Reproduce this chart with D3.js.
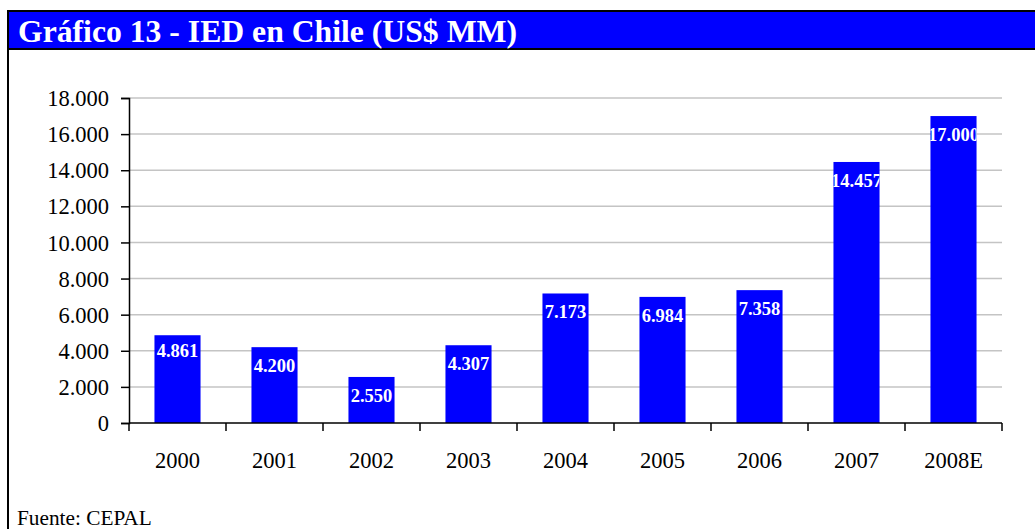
<!DOCTYPE html>
<html>
<head>
<meta charset="utf-8">
<script src="https://cdn.jsdelivr.net/npm/d3@7"></script>
<style>
  html, body { margin: 0; padding: 0; background: #fff; }
  svg { display: block; font-family: "Liberation Serif", "Times New Roman", serif; }
</style>
</head>
<body>
<div id="chart"></div>
<script>
// IED en Chile (US$ MM), fuente CEPAL
const years = ["2000", "2001", "2002", "2003", "2004", "2005", "2006", "2007", "2008E"];
const values = [4861, 4200, 2550, 4307, 7173, 6984, 7358, 14457, 17000];
const yTicks = [0, 2000, 4000, 6000, 8000, 10000, 12000, 14000, 16000, 18000];

const width = 1035, height = 529;
const svg = d3.select("#chart").append("svg").attr("width", width).attr("height", height);

// frame + title bar
svg.append("rect").attr("x", 7).attr("y", 10).attr("width", width - 7).attr("height", 2).attr("fill", "#000");
svg.append("rect").attr("x", 7).attr("y", 12).attr("width", width - 7).attr("height", 36).attr("fill", "#0000ff");
svg.append("rect").attr("x", 7).attr("y", 48).attr("width", width - 7).attr("height", 2).attr("fill", "#000");
svg.append("rect").attr("x", 7).attr("y", 10).attr("width", 2).attr("height", height - 10).attr("fill", "#000");

svg.append("text").attr("x", 18).attr("y", 41.5)
  .attr("fill", "#fff").attr("font-weight", "bold").attr("font-size", 31.7)
  .text("Gráfico 13 - IED en Chile (US$ MM)");

const x = d3.scaleBand().domain(years).range([129, 1002]).padding(0);
const y = d3.scaleLinear().domain([0, 18000]).range([423, 98]);
const fmt = d3.formatLocale({decimal: ",", thousands: ".", grouping: [3]}).format(",");

// gridlines
svg.append("g").selectAll("line").data(yTicks.filter(d => d > 0)).join("line")
  .attr("x1", 129).attr("x2", 1002)
  .attr("y1", d => y(d)).attr("y2", d => y(d))
  .attr("stroke", "#c4c4c4").attr("stroke-width", 1.5);

// bars
const barW = x.bandwidth() * 0.475;
const defs = svg.append("defs");
values.forEach((v, i) => {
  defs.append("clipPath").attr("id", "clip" + i).append("rect")
    .attr("x", x(years[i]) + (x.bandwidth() - barW) / 2).attr("y", y(v))
    .attr("width", barW).attr("height", y(0) - y(v));
});
const bars = svg.append("g").selectAll("g").data(values).join("g");
bars.append("rect")
  .attr("x", (d, i) => x(years[i]) + (x.bandwidth() - barW) / 2)
  .attr("y", d => y(d))
  .attr("width", barW)
  .attr("height", d => y(0) - y(d))
  .attr("fill", "#0000ff");
bars.append("text")
  .attr("clip-path", (d, i) => `url(#clip${i})`)
  .attr("x", (d, i) => x(years[i]) + x.bandwidth() / 2)
  .attr("y", (d, i) => y(d) + (i === 0 ? 22 : 25))
  .attr("text-anchor", "middle")
  .attr("fill", "#fff").attr("font-weight", "bold").attr("font-size", 18.5)
  .text(d => fmt(d));

// y axis
const yAxis = d3.axisLeft(y).tickValues(yTicks).tickSize(8).tickPadding(12).tickFormat(fmt);
svg.append("g").attr("transform", "translate(129,0)").call(yAxis)
  .call(g => g.select(".domain").attr("stroke", "#000").attr("stroke-width", 1.5))
  .call(g => g.selectAll(".tick line").attr("stroke", "#000").attr("stroke-width", 1.5))
  .call(g => g.selectAll(".tick text").attr("font-size", 22.5).attr("fill", "#000")
    .attr("dy", "0.34em"));
svg.selectAll("g").filter(function() { return this.getAttribute("font-family") === "sans-serif"; })
  .attr("font-family", null);

// x axis: line, boundary ticks, centred labels
const xg = svg.append("g");
xg.append("line").attr("x1", 129).attr("x2", 1002).attr("y1", 423).attr("y2", 423)
  .attr("stroke", "#000").attr("stroke-width", 1.5);
const bounds = years.map(d => x(d)).concat([x.range()[1]]);
xg.selectAll("line.t").data(bounds).join("line").attr("class", "t")
  .attr("x1", d => d).attr("x2", d => d).attr("y1", 423).attr("y2", 431)
  .attr("stroke", "#000").attr("stroke-width", 1.5);
xg.selectAll("text").data(years).join("text")
  .attr("x", d => x(d) + x.bandwidth() / 2).attr("y", 468)
  .attr("text-anchor", "middle").attr("font-size", 22.5).attr("fill", "#000")
  .text(d => d);

svg.append("text").attr("x", 17).attr("y", 525)
  .attr("font-size", 21.3).attr("fill", "#000")
  .text("Fuente: CEPAL");
</script>
</body>
</html>
